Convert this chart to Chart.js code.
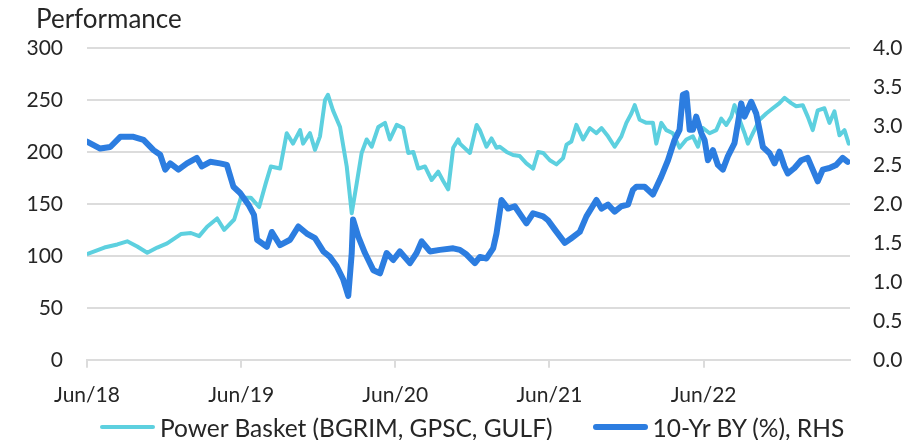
<!DOCTYPE html>
<html>
<head>
<meta charset="utf-8">
<script src="https://cdn.jsdelivr.net/npm/chart.js@4/dist/chart.umd.min.js"></script>
<style>
    html, body { margin: 0; padding: 0; background: #fff; }
    #wrap { position: relative; width: 920px; height: 440px; }
    #legend {
        position: absolute; left: 100px; top: 412px; height: 30px;
        display: flex; align-items: center;
        font-family: Lato, sans-serif; font-size: 24.5px; color: #262626;
    }
    .item { display: flex; align-items: center; margin-right: 40px; white-space: nowrap; }
    .swatch { width: 55px; height: 5px; border-radius: 3px; margin-right: 5px; }
</style>
</head>
<body>
<div id="wrap"><canvas id="chart"></canvas><div id="legend"></div></div>
<script>
// months counted from Jun/18
const BASKET_MONTHS = [
    0.05, 1.35, 2.36, 3.13, 3.91, 4.69, 5.47, 6.24, 7.31, 8.09, 8.73, 9.35, 10.13, 10.68, 11.46, 11.98,
    12.75, 13.40, 13.92, 14.31, 15.03, 15.55, 16.04, 16.59, 16.82, 17.36, 17.75, 18.14, 18.53, 18.76,
    19.15, 19.70, 20.22, 20.61, 21.00, 21.38, 21.77, 22.16, 22.68, 23.20, 23.58, 24.11, 24.62, 25.01,
    25.40, 25.79, 26.31, 26.83, 27.34, 27.73, 28.12, 28.51, 28.90, 29.03, 29.81, 30.33, 30.58, 31.10,
    31.49, 31.88, 32.14, 32.66, 33.17, 33.69, 34.21, 34.73, 35.12, 35.51, 36.03, 36.55, 37.06, 37.33,
    37.71, 38.10, 38.62, 39.14, 39.66, 40.05, 40.56, 41.08, 41.60, 41.99, 42.38, 42.64, 43.02, 43.55,
    44.06, 44.32, 44.71, 45.10, 45.61, 46.13, 46.66, 47.17, 47.56, 47.95, 48.47, 48.99, 49.38, 49.77,
    50.16, 50.41, 50.80, 51.19, 51.45, 51.84, 52.36, 52.88, 53.39, 53.91, 54.30, 54.82, 55.21, 55.72,
    56.11, 56.50, 56.89, 57.41, 57.80, 58.19, 58.58, 58.97, 59.30
];
const BASKET_VALUES = [
    102, 108, 111, 114, 109, 103, 108, 112, 121, 122, 119, 128, 136, 125, 135, 156,
    156, 147, 170, 186, 184, 218, 208, 221, 208, 218, 202, 215, 250, 255,
    240, 224, 186, 141, 170, 199, 212, 205, 224, 228, 212, 226, 223, 199,
    200, 184, 186, 173, 181, 172, 164, 204, 212, 208, 199, 226, 221, 205,
    213, 204, 205, 200, 197, 196, 189, 184, 200, 199, 192, 188, 194, 207,
    210, 226, 212, 223, 218, 223, 215, 205, 215, 228, 237, 245, 231, 228,
    228, 208, 228, 221, 218, 204, 212, 215, 205, 223, 218, 221, 232, 226,
    234, 245, 231, 218, 208, 218, 231, 237, 242, 247, 252, 247, 244, 245,
    234, 221, 240, 242, 228, 239, 216, 221, 208
];

const YIELD_MONTHS = [
    0.00, 1.03, 1.81, 2.59, 3.62, 4.40, 5.18, 5.70, 6.09, 6.48, 7.12, 7.78, 8.55, 8.94, 9.59, 10.36,
    10.89, 11.40, 11.92, 12.57, 13.00, 13.24, 14.00, 14.39, 15.03, 15.81, 16.45, 17.11, 17.75, 18.40,
    18.92, 19.44, 19.95, 20.34, 20.61, 20.71, 21.12, 21.64, 22.29, 22.81, 23.33, 23.84, 24.36, 25.14,
    25.66, 26.05, 26.70, 27.47, 28.51, 29.03, 29.55, 30.20, 30.59, 31.10, 31.62, 31.88, 32.27, 32.78,
    33.30, 34.21, 34.73, 35.51, 35.89, 36.42, 37.20, 37.71, 38.36, 38.88, 39.66, 40.05, 40.56, 41.08,
    41.60, 42.12, 42.50, 42.77, 43.41, 44.06, 44.71, 45.23, 45.74, 46.13, 46.39, 46.66, 46.92, 47.17,
    47.43, 47.82, 48.08, 48.34, 48.73, 49.11, 49.50, 49.89, 50.41, 50.67, 50.93, 51.19, 51.71, 52.10,
    52.36, 52.62, 53.14, 53.53, 53.91, 54.30, 54.56, 55.08, 55.60, 56.11, 56.50, 56.89, 57.28, 57.80,
    58.32, 58.83, 59.22
];
const YIELD_VALUES = [
    2.80, 2.71, 2.73, 2.86, 2.86, 2.82, 2.69, 2.63, 2.44, 2.52, 2.44, 2.52, 2.59, 2.48, 2.54, 2.52,
    2.50, 2.22, 2.14, 1.99, 1.86, 1.54, 1.45, 1.64, 1.47, 1.54, 1.71, 1.62, 1.56, 1.39,
    1.32, 1.20, 1.03, 0.82, 1.37, 1.80, 1.58, 1.37, 1.15, 1.11, 1.37, 1.28, 1.39, 1.24,
    1.37, 1.52, 1.39, 1.41, 1.43, 1.41, 1.35, 1.24, 1.32, 1.30, 1.43, 1.62, 2.05, 1.94,
    1.97, 1.75, 1.88, 1.84, 1.79, 1.67, 1.50, 1.56, 1.64, 1.84, 2.05, 1.94, 1.99, 1.90,
    1.97, 1.99, 2.18, 2.22, 2.22, 2.12, 2.35, 2.56, 2.82, 2.95, 3.40, 3.42, 2.95, 2.95,
    3.12, 2.91, 2.82, 2.56, 2.69, 2.50, 2.44, 2.61, 2.78, 3.03, 3.29, 3.12, 3.31, 3.16,
    2.95, 2.73, 2.65, 2.52, 2.67, 2.48, 2.39, 2.46, 2.56, 2.59, 2.44, 2.29, 2.44, 2.46,
    2.50, 2.59, 2.54
];

const X_TICK_LABELS = ['Jun/18', 'Jun/19', 'Jun/20', 'Jun/21', 'Jun/22'];
const SERIES_NAMES = ['Power Basket (BGRIM, GPSC, GULF)', '10-Yr BY (%), RHS'];
const CYAN = '#5dd0df';
const BLUE = '#2c7de0';
const GRID = '#dcdcdc';

Chart.defaults.font.family = 'Lato';
Chart.defaults.font.size = 21;
Chart.defaults.color = '#262626';

const toPoints = (xs, ys) => xs.map((x, i) => ({x: x, y: ys[i]}));

// "Performance" sits over the left axis, not at the canvas edge
const axisCaption = {
    id: 'axisCaption',
    afterDraw(chart) {
        const ctx = chart.ctx;
        ctx.save();
        ctx.font = '26px Lato';
        ctx.fillStyle = '#262626';
        ctx.textBaseline = 'middle';
        ctx.fillText('Performance', 36, 20);
        ctx.restore();
    }
};

const chart = new Chart(document.getElementById('chart'), {
    type: 'line',
    data: {
        datasets: [
            {
                label: SERIES_NAMES[0],
                data: toPoints(BASKET_MONTHS, BASKET_VALUES),
                borderColor: CYAN,
                borderWidth: 4,
                yAxisID: 'y',
                order: 1
            },
            {
                label: SERIES_NAMES[1],
                data: toPoints(YIELD_MONTHS, YIELD_VALUES),
                borderColor: BLUE,
                borderWidth: 6,
                yAxisID: 'y1',
                order: 0
            }
        ]
    },
    options: {
        responsive: true,
        maintainAspectRatio: false,
        animation: false,
        layout: {padding: {left: 0, right: 0, top: 48, bottom: 17}},
        elements: {
            point: {radius: 0},
            line: {tension: 0, borderJoinStyle: 'round', borderCapStyle: 'round'}
        },
        scales: {
            x: {
                type: 'linear',
                min: 0,
                max: 59.4,
                grid: {display: true, drawOnChartArea: false, drawTicks: true, tickLength: 8, color: GRID, lineWidth: 2},
                border: {display: true, color: GRID, width: 2},
                ticks: {
                    stepSize: 12,
                    includeBounds: false,
                    padding: 15,
                    maxRotation: 0,
                    callback: (v) => X_TICK_LABELS[v / 12]
                }
            },
            y: {
                position: 'left',
                min: 0,
                max: 300,
                grid: {color: GRID, lineWidth: 2, drawTicks: false},
                border: {display: false},
                ticks: {stepSize: 50, padding: 24},
                afterFit: (scale) => { scale.width = 87; }
            },
            y1: {
                position: 'right',
                min: 0,
                max: 4,
                grid: {drawOnChartArea: false, drawTicks: false},
                border: {display: false},
                ticks: {stepSize: 0.5, padding: 23, callback: (v) => v.toFixed(1)},
                afterFit: (scale) => { scale.width = 70; }
            }
        },
        plugins: {
            legend: {display: false},
            tooltip: {enabled: false}
        }
    },
    plugins: [axisCaption]
});

// html legend built from the datasets
const legend = document.getElementById('legend');
chart.data.datasets.forEach((ds) => {
    const item = document.createElement('div');
    item.className = 'item';
    const swatch = document.createElement('span');
    swatch.className = 'swatch';
    swatch.style.background = ds.borderColor;
    swatch.style.height = (ds.borderWidth - 0.5) + 'px';
    const text = document.createElement('span');
    text.textContent = ds.label;
    item.appendChild(swatch);
    item.appendChild(text);
    legend.appendChild(item);
});
</script>
</body>
</html>
